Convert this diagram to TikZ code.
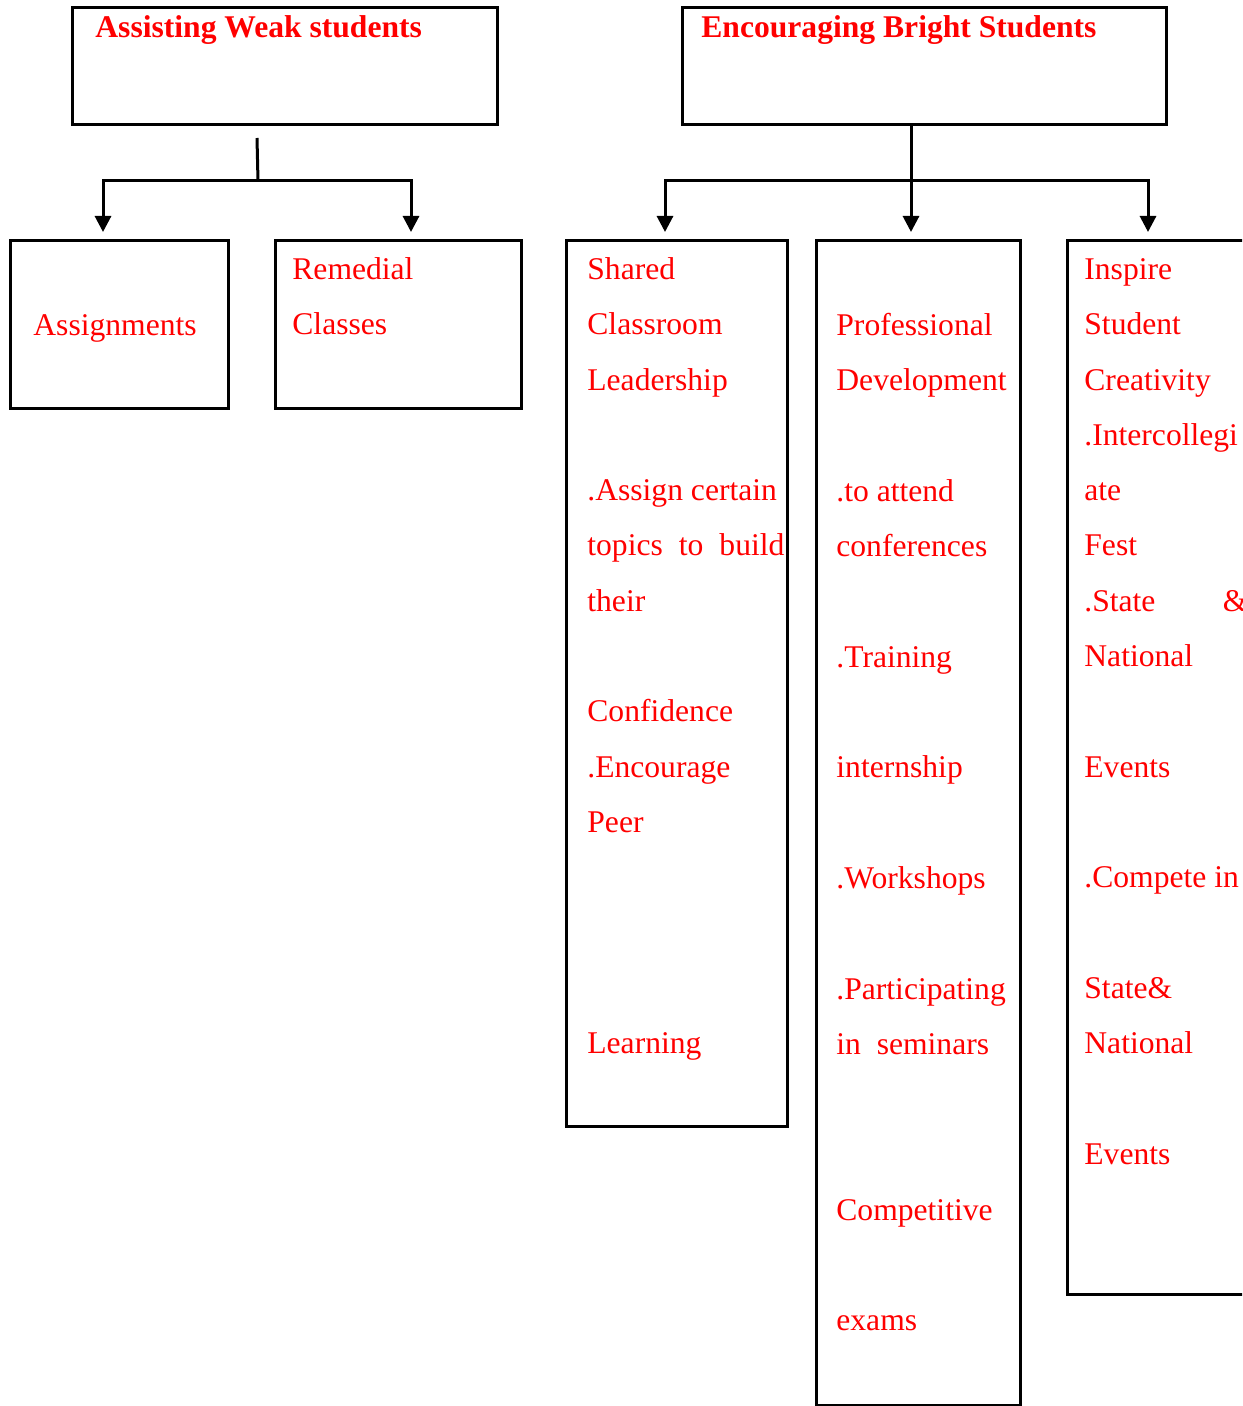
\documentclass[tikz,border=0pt]{standalone}
\usepackage{fontspec}
\setmainfont{Liberation Serif}
\usepackage{tikz}
\usetikzlibrary{positioning,arrows.meta}

\newlength{\rowskip}
\setlength{\rowskip}{27.65pt}

\tikzset{
    box/.style={draw, line width=1.5pt, inner sep=0pt, anchor=north west},
    txt/.style={anchor=north west, inner sep=0pt, align=left, text=red,
        font=\fontsize{15.8pt}{27.65pt}\selectfont},
    head/.style={anchor=base west, inner sep=0pt, text=red,
        font=\fontsize{15.8pt}{27.65pt}\selectfont\bfseries},
    conn/.style={line width=1.5pt},
    arr/.style={conn, -{Triangle[width=8pt,length=8pt]}}
}

\begin{document}
\begin{tikzpicture}[x=0.5pt, y=-0.5pt]
    \clip (0,0) rectangle (1242,1406);
    \fill[white] (0,0) rectangle (1242,1406);

    % top boxes
    \node[box, minimum width=212.5pt, minimum height=58.5pt] (weak) at (71,6) {};
    \node[box, minimum width=242pt, minimum height=58.5pt] (bright) at (681,6) {};
    \node[head] (weak-t) at (95,38) {Assisting Weak students};
    \node[head] (bright-t) at (701,38) {Encouraging Bright Students};

    % lower boxes
    \node[box, minimum width=109pt, minimum height=84pt] (assign) at (9,239) {};
    \node[box, minimum width=123pt, minimum height=84pt] (remedial) at (274,239) {};
    \node[box, minimum width=110.5pt, minimum height=443pt] (shared) at (565,239) {};
    \node[box, minimum width=102pt, minimum height=582.5pt] (profdev) at (815,239) {};
    \node[box, minimum width=98pt, minimum height=527pt] (inspire) at (1066,239) {};

    \node[txt] (assign-t) at (33,296.3) {\strut Assignments};
    \node[txt] (remedial-t) at (292,240.3) {\strut Remedial\\ Classes};
    \node[txt] (shared-t) at (587,240.3) {\strut Shared\\ Classroom\\
        Leadership\\[\rowskip]
        .Assign certain\\ \hbox to 98.5pt{topics\hfill to\hfill build}\\
        their\\[\rowskip]
        Confidence\\ .Encourage\\ Peer\\[3\rowskip]
        Learning};
    \node[txt] (profdev-t) at (836,296.3) {\strut Professional\\
        Development\\[\rowskip]
        .to attend\\ conferences\\[\rowskip]
        .Training\\[\rowskip]
        internship\\[\rowskip]
        .Workshops\\[\rowskip]
        .Participating\\ in\ \ seminars\\[2\rowskip]
        Competitive\\[\rowskip]
        exams};
    \node[txt] (inspire-t) at (1084,240.3) {\strut Inspire\\ Student\\
        Creativity\\ .Intercollegi\\ ate\\ Fest\\
        \hbox to 81.5pt{.State\hfill\&}\\ National\\[\rowskip]
        Events\\[\rowskip]
        .Compete in\\[\rowskip]
        State\&\\ National\\[\rowskip]
        Events};

    % connectors
    \coordinate (wsplit) at (258,181);
    \coordinate (wtop) at (257,138);
    \coordinate (a1) at (103,232);
    \coordinate (a2) at (411,232);
    \draw[conn] (wtop) -- (wsplit);
    \draw[arr] (wsplit) -| (a1);
    \draw[arr] (wsplit) -| (a2);

    \coordinate (bsplit) at (911,181);
    \coordinate (b1) at (665,232);
    \coordinate (b3) at (1148,232);
    \draw[conn] (bsplit |- bright.south) -- (bsplit);
    \draw[arr] (bsplit) -| (b1);
    \draw[arr] (bsplit) -- (bsplit |- b1);
    \draw[arr] (bsplit) -| (b3);
\end{tikzpicture}
\end{document}
